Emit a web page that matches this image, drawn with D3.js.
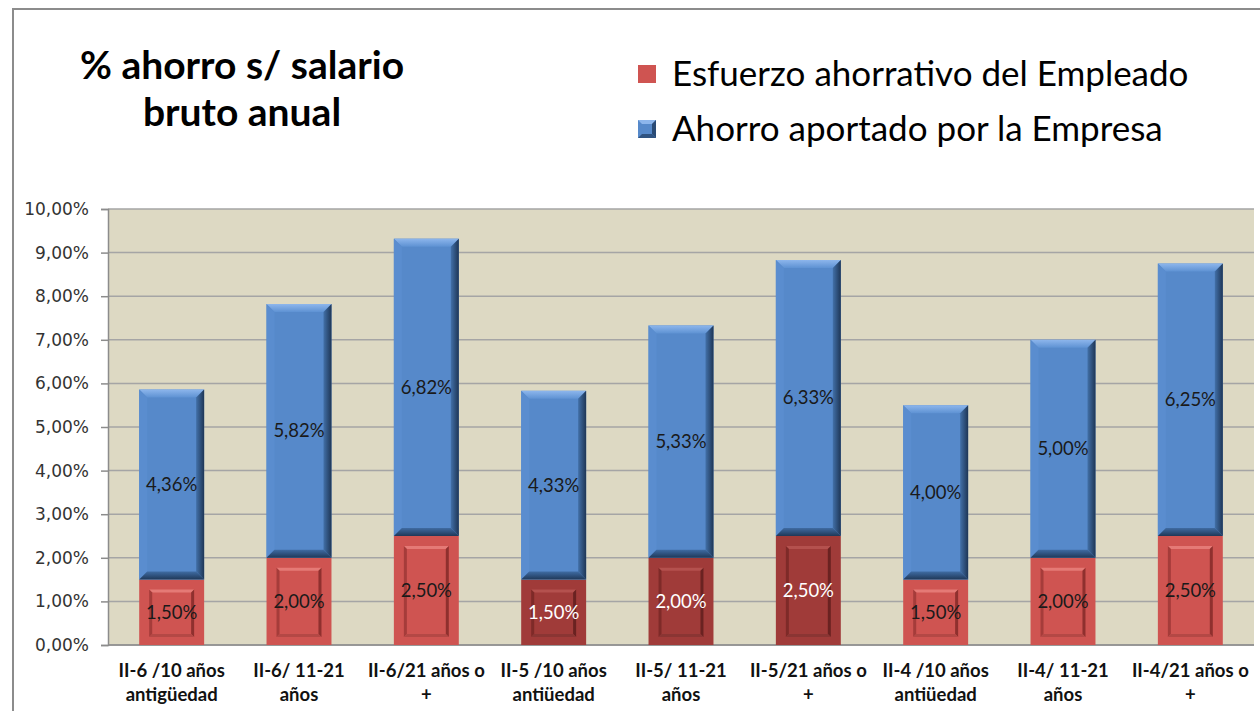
<!DOCTYPE html>
<html>
<head>
<meta charset="utf-8">
<script src="https://cdn.jsdelivr.net/npm/d3@7"></script>
<style>
  body { margin: 0; background: #fff; }
  text { font-family: Lato, "Open Sans", sans-serif; }
</style>
</head>
<body>
<div id="chart"></div>
<script>
// data
var categories = [
    ["II-6 /10 años", "antigüedad"],
    ["II-6/ 11-21", "años"],
    ["II-6/21 años o", "+"],
    ["II-5 /10 años", "antiüedad"],
    ["II-5/ 11-21", "años"],
    ["II-5/21 años o", "+"],
    ["II-4 /10 años", "antiüedad"],
    ["II-4/ 11-21", "años"],
    ["II-4/21 años o", "+"]
];
var empleado = [1.50, 2.00, 2.50, 1.50, 2.00, 2.50, 1.50, 2.00, 2.50];
var empresa = [4.36, 5.82, 6.82, 4.33, 5.33, 6.33, 4.00, 5.00, 6.25];
var highlighted = [3, 4, 5]; // indexes drawn in darker red
var yTicks = [0, 1, 2, 3, 4, 5, 6, 7, 8, 9, 10];
var seriesNames = ["Esfuerzo ahorrativo del Empleado", "Ahorro aportado por la Empresa"];
var titleLines = ["% ahorro s/ salario", "bruto anual"];

var W = 1260, H = 711
    , plot = { left: 108, top: 209, right: 1254, bottom: 645 }
    , red = "#CF5451", darkRed = "#A03B39", blue = "#5689CA";

var fmt = function (v) { return v.toFixed(2).replace(".", ",") + "%"; };

var svg = d3.select("#chart").append("svg")
    .attr("width", W)
    .attr("height", H);

var defs = svg.append("defs");
function grad(id, x2, y2, c0, c1) {
    var g = defs.append("linearGradient").attr("id", id)
        .attr("x1", 0).attr("y1", 0).attr("x2", x2).attr("y2", y2);
    g.append("stop").attr("offset", "0%").attr("stop-color", c0);
    g.append("stop").attr("offset", "100%").attr("stop-color", c1);
}
grad("bTop", 0, 1, "#8DB6EC", "#5E92D3");
grad("bRight", 1, 0, "#4270A8", "#1E3656");
grad("bBottom", 0, 1, "#3F6BA2", "#1F3858");

// outer frame
svg.append("path")
    .attr("d", "M13," + H + "V9H" + W)
    .attr("fill", "none")
    .attr("stroke", "#8c8c8c")
    .attr("stroke-width", 2);

var x = d3.scaleBand()
    .domain(d3.range(categories.length))
    .range([plot.left, plot.right])
    .paddingInner(0.49)
    .paddingOuter(0.245);

var y = d3.scaleLinear()
    .domain([0, 10])
    .range([plot.bottom, plot.top]);

svg.append("rect")
    .attr("x", plot.left).attr("y", plot.top)
    .attr("width", plot.right - plot.left)
    .attr("height", plot.bottom - plot.top)
    .attr("fill", "#DDD9C3");

svg.append("g")
    .selectAll("line")
    .data(yTicks)
    .join("line")
    .attr("x1", plot.left).attr("x2", plot.right)
    .attr("y1", function (d) { return y(d); })
    .attr("y2", function (d) { return y(d); })
    .attr("stroke", "#A5A5A5")
    .attr("stroke-width", 1.5);

var yAxis = d3.axisLeft(y).tickValues(yTicks).tickFormat(fmt).tickSize(7).tickPadding(12);
var yAxisDraw = svg.append("g")
    .attr("transform", "translate(" + plot.left + ",0)")
    .call(yAxis);
yAxisDraw.select(".domain").attr("stroke", "#8c8c8c").attr("stroke-width", 1.5);
yAxisDraw.selectAll(".tick line").attr("stroke", "#8c8c8c").attr("stroke-width", 1.5);
yAxisDraw.selectAll(".tick text")
    .style("font-family", "'DejaVu Sans', sans-serif")
    .style("font-size", "17px")
    .attr("fill", "#333");

svg.append("line")
    .attr("x1", plot.left).attr("x2", plot.right)
    .attr("y1", plot.bottom).attr("y2", plot.bottom)
    .attr("stroke", "#8c8c8c").attr("stroke-width", 1.5);

function poly(g, pts, fill) {
    g.append("polygon")
        .attr("points", pts.map(function (p) { return p.join(","); }).join(" "))
        .attr("fill", fill);
}

var bars = svg.append("g");
categories.forEach(function (c, i) {
    var g = bars.append("g");
    var x0 = x(i), x1 = x(i) + x.bandwidth();
    var hl = highlighted.indexOf(i) >= 0;

    // empleado segment (panel look)
    var ry0 = y(empleado[i]), ry1 = y(0);
    g.append("rect")
        .attr("x", x0).attr("y", ry0)
        .attr("width", x1 - x0).attr("height", ry1 - ry0)
        .attr("fill", hl ? darkRed : red);
    var ix0 = x0 + 10, ix1 = x1 - 10, iy0 = ry0 + 10, iy1 = ry1 - 8, d = 3;
    poly(g, [[ix0, iy0], [ix1, iy0], [ix1 - d, iy0 + d], [ix0 + d, iy0 + d]], hl ? "#B4514E" : "#E57A76");
    poly(g, [[ix0, iy0], [ix0 + d, iy0 + d], [ix0 + d, iy1 - d], [ix0, iy1]], hl ? "#7E2A28" : "#A53C3A");
    poly(g, [[ix1, iy0], [ix1, iy1], [ix1 - d, iy1 - d], [ix1 - d, iy0 + d]], hl ? "#6A2221" : "#8F302E");
    poly(g, [[ix0, iy1], [ix1, iy1], [ix1 - d, iy1 - d], [ix0 + d, iy1 - d]], hl ? "#8A3533" : "#B44845");

    // empresa segment (bevel look)
    var by0 = y(empleado[i] + empresa[i]), by1 = ry0, e = 8;
    g.append("rect")
        .attr("x", x0).attr("y", by0)
        .attr("width", x1 - x0).attr("height", by1 - by0)
        .attr("fill", blue);
    poly(g, [[x0, by0], [x1, by0], [x1 - e, by0 + e], [x0 + e, by0 + e]], "url(#bTop)");
    poly(g, [[x0, by0], [x0 + e, by0 + e], [x0 + e, by1 - e], [x0, by1]], "#5A8DCF");
    poly(g, [[x1, by0], [x1, by1], [x1 - e, by1 - e], [x1 - e, by0 + e]], "url(#bRight)");
    poly(g, [[x0, by1], [x1, by1], [x1 - e, by1 - e], [x0 + e, by1 - e]], "url(#bBottom)");

    var cx = x0 + x.bandwidth() / 2;
    g.append("text")
        .attr("x", cx).attr("y", (by0 + by1) / 2)
        .attr("dy", "0.35em")
        .attr("text-anchor", "middle")
        .style("font-size", "18.5px")
        .attr("fill", "#1a1a1a")
        .text(fmt(empresa[i]));
    g.append("text")
        .attr("x", cx).attr("y", (ry0 + ry1) / 2)
        .attr("dy", "0.35em")
        .attr("text-anchor", "middle")
        .style("font-size", "18.5px")
        .attr("fill", hl ? "#fff" : "#1a1a1a")
        .text(fmt(empleado[i]));

    var lab = g.append("text")
        .attr("text-anchor", "middle")
        .style("font-size", "18.5px")
        .style("font-weight", "bold")
        .attr("fill", "#111");
    c.forEach(function (line, k) {
        lab.append("tspan").attr("x", cx).attr("y", 677 + k * 24).text(line);
    });
});

// title
var title = svg.append("text")
    .attr("text-anchor", "middle")
    .style("font-size", "39px")
    .style("font-weight", "bold")
    .attr("fill", "#000");
titleLines.forEach(function (t, k) {
    title.append("tspan").attr("x", 242).attr("y", 79 + k * 47).text(t);
});

// legend
var legend = svg.append("g");
seriesNames.forEach(function (s, k) {
    var ly = 74 + k * 55;
    var lg = legend.append("g");
    lg.append("rect")
        .attr("x", 638).attr("y", ly - 9)
        .attr("width", 18).attr("height", 18)
        .attr("fill", k === 0 ? red : blue);
    if (k === 1) {
        poly(lg, [[638, ly - 9], [656, ly - 9], [652, ly - 5], [642, ly - 5]], "#8DB6EC");
        poly(lg, [[656, ly - 9], [656, ly + 9], [652, ly + 5], [652, ly - 5]], "#2A4B75");
        poly(lg, [[638, ly + 9], [656, ly + 9], [652, ly + 5], [642, ly + 5]], "#2F5380");
    }
    lg.append("text")
        .attr("x", 672).attr("y", ly)
        .attr("dy", "0.35em")
        .style("font-size", "35px")
        .attr("fill", "#000")
        .text(s);
});
</script>
</body>
</html>
